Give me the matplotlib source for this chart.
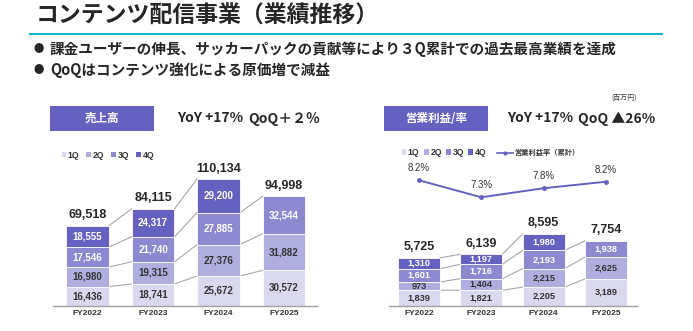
import numpy as np
import matplotlib
matplotlib.use("Agg")
import matplotlib.pyplot as plt
from matplotlib.patches import Rectangle
from matplotlib.lines import Line2D

# ---------------- data ----------------
fiscal_years = ["FY2022", "FY2023", "FY2024", "FY2025"]
quarter_names = ["1Q", "2Q", "3Q", "4Q"]

sales_q1 = [16436, 18741, 25672, 30572]
sales_q2 = [16980, 19315, 27376, 31882]
sales_q3 = [17546, 21740, 27885, 32544]
sales_q4 = [18555, 24317, 29200, None]
sales_total = [69518, 84115, 110134, 94998]

op_q1 = [1839, 1821, 2205, 3189]
op_q2 = [973, 1404, 2215, 2625]
op_q3 = [1601, 1716, 2193, 1938]
op_q4 = [1310, 1197, 1980, None]
op_total = [5725, 6139, 8595, 7754]

op_margin = [8.24, 7.30, 7.80, 8.16]   # 営業利益率（累計） %

title_text = "コンテンツ配信事業（業績推移）"
bullet_lines = ["課金ユーザーの伸長、サッカーパックの貢献等により３Q累計での過去最高業績を達成",
                "QoQはコンテンツ強化による原価増で減益"]
left_header = "売上高"
right_header = "営業利益/率"
left_yoy, left_qoq = "YoY +17%", "QoQ＋２％"
right_yoy, right_qoq = "YoY +17%", "QoQ ▲26%"
margin_label = "営業利益率（累計）"
unit_label = "(百万円)"

# ---------------- style ----------------
W, H = 693, 331
JP = ['Noto Sans CJK JP', 'DejaVu Sans']
NUM = ['Liberation Sans', 'Noto Sans CJK JP', 'DejaVu Sans']
plt.rcParams['font.family'] = JP
COLORS = ['#D9D8EF', '#B0AEDF', '#8C89D1', '#6461C0']
DARK = '#333333'
HEAD = '#6461C0'

fig = plt.figure(figsize=(W / 100, H / 100), dpi=100)


def px_axes(x0, x1, ytop, ybot, **kw):
    return fig.add_axes([x0 / W, 1 - ybot / H, (x1 - x0) / W, (ybot - ytop) / H], **kw)


over = fig.add_axes([0, 0, 1, 1], zorder=-1)
over.set_xlim(0, W)
over.set_ylim(H, 0)
over.axis('off')

# title & bullets
over.text(36, 16, title_text, fontsize=16.5, fontweight='bold', color='#262626', va='center', ha='left')
over.plot([29, 663], [34, 34], color='#17B3D3', lw=1.5, solid_capstyle='butt')
for i, line in enumerate(bullet_lines):
    y = 49 + i * 20.5
    over.text(39, y, "●", fontsize=7.5, color='#262626', ha='center', va='center')
    over.text(50, y, line, fontsize=10.5, fontweight='bold', color='#262626', ha='left', va='center')
over.text(624, 98, unit_label, fontsize=5, color=DARK, ha='center', va='center')

# headers
for (x0, x1, label, yoy, qoq, xy, xq) in [
        (50, 154, left_header, left_yoy, left_qoq, 177, 248),
        (384, 488, right_header, right_yoy, right_qoq, 507, 578)]:
    over.add_patch(Rectangle((x0, 106), x1 - x0, 25, color=HEAD, lw=0))
    over.text((x0 + x1) / 2, 118.5, label, color='white', fontsize=8.3, fontweight='bold',
              ha='center', va='center')
    over.text(xy, 118.5, yoy, fontsize=10, fontweight='bold', color='#262626', ha='left', va='center')
    over.text(xq, 118.5, qoq, fontsize=10, fontweight='bold', color='#262626', ha='left', va='center')


def to_arr(vals):
    return np.array([np.nan if v is None else v for v in vals], dtype=float)


def stacked(ax, quarters, totals, width, xlim, ymax, seg_fs, tot_fs):
    x = np.arange(len(fiscal_years))
    bottom = np.zeros(len(x))
    levels = []
    handles = []
    for qi, vals in enumerate(quarters):
        v = to_arr(vals)
        ok = ~np.isnan(v)
        h = np.nan_to_num(v)
        ax.bar(x[ok], h[ok], width, bottom=bottom[ok], color=COLORS[qi],
               edgecolor='white', linewidth=0.6, zorder=2)
        handles.append(Rectangle((0, 0), 1, 1, color=COLORS[qi], lw=0))
        for xi in x[ok]:
            ax.text(xi, bottom[xi] + h[xi] / 2, f"{int(h[xi]):,}", ha='center', va='center',
                    color='white' if qi >= 2 else DARK, fontsize=seg_fs, fontweight='bold',
                    family=NUM, zorder=3)
        bottom = bottom + h
        levels.append(np.where(ok, bottom, np.nan))
    for xi in range(len(x) - 1):
        for lv in levels:
            if np.isnan(lv[xi]) or np.isnan(lv[xi + 1]):
                continue
            ax.plot([xi + width / 2, xi + 1 - width / 2], [lv[xi], lv[xi + 1]],
                    color='#A6A6A6', lw=0.8, zorder=1)
    for xi, tot in enumerate(totals):
        ax.annotate(f"{tot:,}", (xi, bottom[xi]), xytext=(0, 7.5), textcoords='offset points',
                    ha='center', va='center', fontsize=tot_fs, fontweight='bold', color='#262626',
                    family=NUM)
    ax.set_xlim(*xlim)
    ax.set_ylim(0, ymax)
    for s in ['top', 'left', 'right']:
        ax.spines[s].set_visible(False)
    ax.spines['bottom'].set_color('#A0A0A0')
    ax.spines['bottom'].set_linewidth(1.0)
    ax.set_yticks([])
    ax.set_xticks(x)
    ax.set_xticklabels(fiscal_years, fontsize=6, fontweight='bold', color=DARK, family=NUM)
    ax.tick_params(axis='x', length=0, pad=3.5)
    ax.patch.set_alpha(0)
    return handles


# ---------------- left chart: 売上高 ----------------
axL = px_axes(53, 317, 160, 305.5)
hL = stacked(axL, [sales_q1, sales_q2, sales_q3, sales_q4], sales_total,
             0.656, (-0.527, 3.504), 126700, 7, 9)
axL.legend(hL, quarter_names, loc='center left', bbox_to_anchor=(61.5 / W, 1 - 155 / H),
           bbox_transform=fig.transFigure, ncol=4, frameon=False,
           prop={'family': NUM, 'size': 6.2, 'weight': 'bold'},
           handlelength=0.55, handleheight=0.55, handletextpad=0.2, columnspacing=0.8,
           borderpad=0, borderaxespad=0, labelcolor=DARK)

# ---------------- right chart: 営業利益/率 ----------------
axR = px_axes(389, 637, 160, 305.5)
hR = stacked(axR, [op_q1, op_q2, op_q3, op_q4], op_total,
             0.674, (-0.481, 3.497), 17450, 6.6, 9)
axR.legend(hR, quarter_names, loc='center left', bbox_to_anchor=(401.5 / W, 1 - 152.5 / H),
           bbox_transform=fig.transFigure, ncol=4, frameon=False,
           prop={'family': NUM, 'size': 6.2, 'weight': 'bold'},
           handlelength=0.55, handleheight=0.55, handletextpad=0.2, columnspacing=0.5,
           borderpad=0, borderaxespad=0, labelcolor=DARK)

axM = axR.twinx()
xs = np.arange(len(fiscal_years))
axM.plot(xs, op_margin, color=HEAD, lw=1.4, marker='o', ms=2.5, zorder=4)
for xi, v in enumerate(op_margin):
    axM.annotate(f"{v:.1f}%", (xi, v), xytext=(0, 8.5), textcoords='offset points',
                 ha='center', va='center', fontsize=7, color=DARK, family=NUM)
axM.set_ylim(1.32, 9.36)
axM.set_xlim(-0.481, 3.497)
axM.set_yticks([])
for s in axM.spines.values():
    s.set_visible(False)
axM.legend([Line2D([0], [0], color=HEAD, lw=1.2, marker='o', ms=2)], [margin_label],
           loc='center left', bbox_to_anchor=(497 / W, 1 - 152.5 / H),
           bbox_transform=fig.transFigure, frameon=False,
           prop={'family': JP, 'size': 5.2, 'weight': 'bold'},
           handlelength=2.2, handletextpad=0.2, borderpad=0, borderaxespad=0, labelcolor=DARK)

fig.savefig("out.png", dpi=100)
